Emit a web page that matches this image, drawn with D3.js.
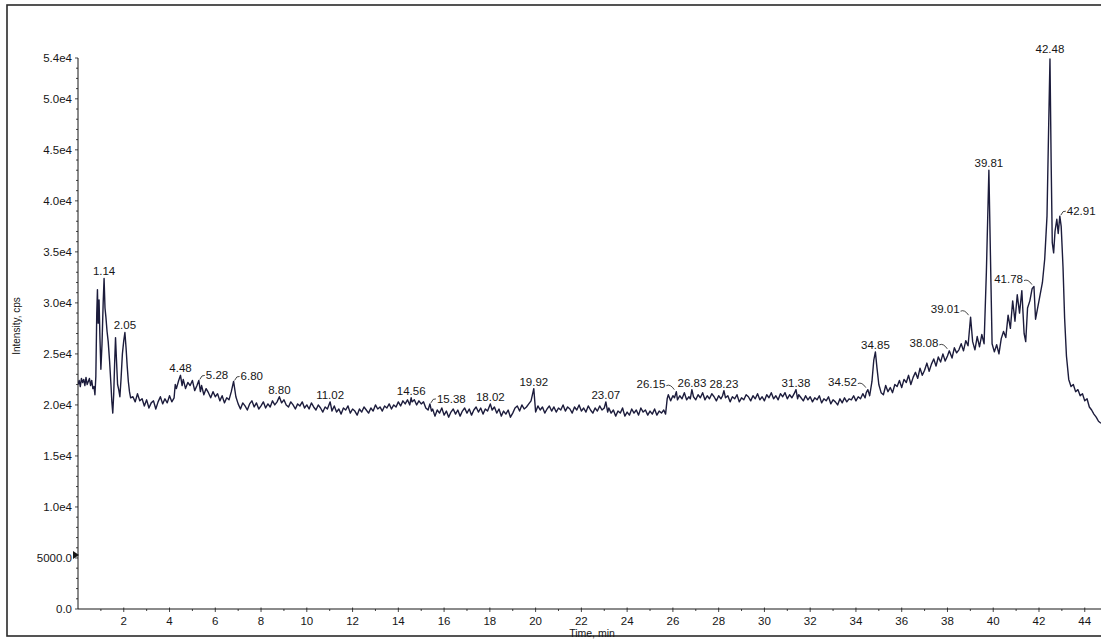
<!DOCTYPE html>
<html>
<head>
<meta charset="utf-8">
<script src="https://cdn.jsdelivr.net/npm/d3@7"></script>
<style>
  html, body { margin: 0; padding: 0; background: #fff; }
  svg { display: block; font-family: "Liberation Sans", Arial, sans-serif; }
</style>
</head>
<body>
<svg id="chart" width="1101" height="639"></svg>
<script>
// ---- Axis ticks ----------------------------------------------------------
const timeTickValues = [2, 4, 6, 8, 10, 12, 14, 16, 18, 20, 22, 24, 26, 28, 30, 32, 34, 36, 38, 40, 42, 44];
const intensityTickValues = [0, 5, 10, 15, 20, 25, 30, 35, 40, 45, 50, 54];          // in 1000 cps
const intensityTickLabels = ["0.0", "5000.0", "1.0e4", "1.5e4", "2.0e4", "2.5e4", "3.0e4",
                             "3.5e4", "4.0e4", "4.5e4", "5.0e4", "5.4e4"];

// ---- Total ion chromatogram: [time (min), intensity (1000 cps)] ----------
const traceFront = [
  [0.00,22.0],[0.05,22.4],[0.10,21.8],[0.15,22.6],[0.20,22.2],[0.25,22.5],[0.30,21.9],[0.35,22.7],
  [0.40,22.0],[0.45,22.3],[0.50,22.6],[0.55,21.9],[0.60,22.4],[0.65,21.6],[0.70,21.8],[0.74,21.0],
  [0.78,22.8],[0.82,29.0],[0.85,31.3],[0.88,28.0],[0.92,30.3],[0.96,26.5],[1.00,23.5],[1.05,26.0],
  [1.10,30.0],[1.14,32.4],[1.18,29.5],[1.22,28.6],[1.27,27.2],[1.32,26.2],[1.38,24.3],[1.44,22.0],
  [1.48,20.3],[1.52,19.2],[1.56,21.0],[1.60,24.0],[1.64,26.6],[1.68,24.5],[1.73,22.0],[1.78,21.5],
  [1.83,20.8],[1.88,22.5],[1.94,25.0],[2.00,26.3],[2.05,27.1],[2.10,25.6],[2.15,23.8],[2.20,22.3],
  [2.25,21.3],[2.30,20.7]
];
const traceEarly = [
  [2.4,20.8],[2.5,20.3],[2.6,21.1],[2.7,20.4],[2.8,20.6],[2.9,19.9],[3.0,20.5],[3.1,19.7],[3.2,20.2],
  [3.3,20.4],[3.4,19.6],[3.5,20.3],[3.6,20.8],[3.7,20.1],[3.8,20.6],[3.9,20.2],[4.0,20.9],[4.1,20.3],
  [4.2,20.7],[4.25,22.0],[4.3,21.6],[4.4,22.4],[4.48,22.9],[4.55,21.9],[4.6,22.5],[4.7,21.6],[4.8,22.2],
  [4.9,21.9],[5.0,22.4],[5.1,21.4],[5.2,21.9],[5.28,22.4],[5.35,21.3],[5.4,21.9],[5.5,21.0],[5.6,21.6],
  [5.7,21.2],[5.8,20.7],[5.9,21.3],[6.0,20.8],[6.1,21.1],[6.2,20.4],[6.3,20.9],[6.4,20.2],[6.5,20.7],
  [6.6,20.5],[6.7,21.3],[6.80,22.3],[6.9,20.8],[7.0,20.1],[7.1,19.6],[7.2,20.2],[7.3,19.9],[7.4,19.5],
  [7.5,20.1],[7.6,20.4],[7.7,19.8],[7.8,20.2],[7.9,19.6],[8.0,19.9],[8.1,20.3],[8.2,19.7],[8.3,20.1],
  [8.4,19.8],[8.5,20.4],[8.6,20.0],[8.7,20.3],[8.80,20.8],[8.9,20.2],[9.0,20.5],[9.1,20.0],[9.2,19.8],
  [9.3,20.3],[9.4,20.0],[9.5,19.6],[9.6,20.1],[9.7,19.9],[9.8,20.3],[9.9,19.7],[10.0,20.0],[10.1,19.6],
  [10.2,20.2],[10.3,19.8],[10.4,19.5],[10.5,20.0],[10.6,19.7],[10.7,19.3],[10.8,19.8],[10.9,19.6],
  [11.02,20.3]
];
const traceMiddle = [
  [11.1,19.4],[11.2,19.9],[11.3,19.3],[11.4,19.6],[11.5,19.1],[11.6,19.7],[11.7,19.5],[11.8,19.9],
  [11.9,19.2],[12.0,19.6],[12.1,19.4],[12.2,19.0],[12.3,19.6],[12.4,19.3],[12.5,19.8],[12.6,19.5],
  [12.7,19.2],[12.8,19.7],[12.9,19.4],[13.0,20.0],[13.1,19.6],[13.2,19.8],[13.3,19.4],[13.4,19.9],
  [13.5,19.7],[13.6,20.1],[13.7,19.6],[13.8,20.0],[13.9,19.8],[14.0,20.3],[14.1,19.9],[14.2,20.4],
  [14.3,20.1],[14.4,20.5],[14.5,20.0],[14.56,20.7],[14.6,20.3],[14.7,20.5],[14.8,20.0],[14.9,20.4],
  [15.0,20.1],[15.1,20.3],[15.2,19.7],[15.3,19.5],[15.38,20.1],[15.45,19.4],[15.5,19.6],[15.6,18.9],
  [15.7,19.5],[15.8,19.2],[15.9,19.7],[16.0,19.0],[16.1,19.4],[16.2,18.8],[16.3,19.3],[16.4,19.6],
  [16.5,19.1],[16.6,19.5],[16.7,18.9],[16.8,19.4],[16.9,19.7],[17.0,19.2],[17.1,19.6],[17.2,19.0],
  [17.3,19.5],[17.4,19.8],[17.5,19.3],[17.6,19.7],[17.7,19.1],[17.8,19.6],[17.9,19.4],[18.02,20.1],
  [18.1,19.5],[18.2,19.8],[18.3,19.2],[18.4,19.6],[18.5,18.9],[18.6,19.4],[18.7,19.1],[18.8,19.5],
  [18.9,18.8],[19.0,19.2],[19.1,19.7],[19.2,19.9],[19.3,19.4],[19.4,20.0],[19.5,19.6],[19.6,19.8],
  [19.7,20.1],[19.8,20.4],[19.92,21.6],[20.0,19.3],[20.1,19.9],[20.2,19.5],[20.3,19.8],[20.4,19.2],
  [20.5,19.6],[20.6,19.9],[20.7,19.4],[20.8,19.8],[20.9,19.3],[21.0,19.7],[21.1,19.5],[21.2,20.0],
  [21.3,19.4],[21.4,19.8],[21.5,19.6],[21.6,19.2],[21.7,19.8],[21.8,19.5],[21.9,20.0],[22.0,19.4],
  [22.1,19.7],[22.2,19.3],[22.3,19.9],[22.4,19.5],[22.5,19.2],[22.6,19.7],[22.7,19.4],[22.8,19.9],
  [22.9,19.5],[23.0,19.7],[23.07,20.3],[23.15,19.3],[23.2,19.7],[23.3,19.2],[23.4,19.5],[23.5,18.9],
  [23.6,19.4],[23.7,19.2],[23.8,19.7],[23.9,18.9],[24.0,19.3],[24.1,19.0],[24.2,19.6],[24.3,19.2],
  [24.4,19.5],[24.5,19.0],[24.6,19.7],[24.7,19.3],[24.8,19.5],[24.9,19.0],[25.0,19.4],[25.1,19.1],
  [25.2,19.6],[25.3,19.0],[25.4,19.4],[25.5,19.2],[25.6,19.5],[25.68,19.1]
];
const tracePlateau = [
  [25.75,20.6],[25.8,21.0],[25.9,20.4],[26.0,20.9],[26.07,20.7],[26.15,21.3],[26.2,20.5],[26.3,20.9],
  [26.4,20.6],[26.5,21.2],[26.6,20.5],[26.7,20.8],[26.76,20.6],[26.83,21.5],[26.9,20.8],[27.0,20.5],
  [27.1,21.0],[27.2,20.7],[27.3,21.2],[27.4,20.5],[27.5,20.9],[27.6,20.6],[27.7,21.1],[27.8,20.8],
  [27.9,20.4],[28.0,20.9],[28.1,20.6],[28.17,20.9],[28.23,21.4],[28.3,20.7],[28.4,20.9],[28.5,20.3],
  [28.6,20.8],[28.7,20.6],[28.8,21.0],[28.9,20.3],[29.0,20.7],[29.1,20.5],[29.2,21.0],[29.3,20.8],
  [29.4,20.4],[29.5,20.9],[29.6,20.6],[29.7,21.1],[29.8,20.5],[29.9,20.8],[30.0,20.4],[30.1,21.0],
  [30.2,20.7],[30.3,21.2],[30.4,20.6],[30.5,20.9],[30.6,20.5],[30.7,21.1],[30.8,20.8],[30.9,21.2],
  [31.0,20.6],[31.1,21.0],[31.2,20.7],[31.3,21.1],[31.38,21.5],[31.45,20.6],[31.5,21.0],[31.6,20.7],
  [31.7,20.4],[31.8,20.9],[31.9,20.5],[32.0,20.8],[32.1,20.3],[32.2,20.7],[32.3,20.5],[32.4,20.9],
  [32.5,20.2],[32.6,20.6],[32.7,20.4],[32.8,20.8],[32.9,20.1],[33.0,20.5],[33.1,20.3],[33.2,20.0],
  [33.3,20.6],[33.4,20.2],[33.5,20.7],[33.6,20.3],[33.7,20.6],[33.8,20.5],[33.9,20.9],[34.0,20.4],
  [34.1,20.8],[34.2,20.6],[34.3,21.1],[34.4,20.7],[34.45,21.2]
];
const traceLate = [
  [34.52,21.5],[34.6,20.9],[34.7,22.3],[34.78,24.4],[34.85,25.2],[34.92,23.6],[35.0,22.0],[35.1,21.2],
  [35.2,21.0],[35.3,21.9],[35.4,21.3],[35.5,21.7],[35.6,21.2],[35.7,22.0],[35.8,21.8],[35.9,22.4],
  [36.0,21.7],[36.1,22.5],[36.2,22.2],[36.3,22.9],[36.4,22.0],[36.5,22.7],[36.6,23.2],[36.7,22.6],
  [36.8,23.6],[36.9,22.9],[37.0,23.4],[37.1,24.1],[37.2,23.3],[37.3,24.0],[37.4,24.5],[37.5,23.8],
  [37.6,24.7],[37.7,24.2],[37.8,25.0],[37.9,24.3],[38.0,24.8],[38.08,25.3],[38.2,24.6],[38.3,25.6],
  [38.4,25.1],[38.5,25.4],[38.6,26.0],[38.7,25.3],[38.8,26.3],[38.9,25.8],[39.01,28.6],[39.1,26.2],
  [39.2,25.4],[39.3,26.7],[39.4,25.7],[39.5,26.9],[39.6,26.0],[39.7,33.0],[39.81,43.0],[39.9,32.0],
  [39.95,26.0],[40.05,25.2],[40.15,25.9],[40.25,25.0],[40.35,26.5],[40.45,27.2],[40.55,26.6],
  [40.65,28.8],[40.75,27.5],[40.85,30.2],[40.95,28.2],[41.05,30.8],[41.15,29.0],[41.25,31.2],
  [41.35,27.0],[41.42,26.2],[41.5,29.5],[41.6,30.2],[41.7,31.4],[41.78,31.6],[41.85,28.4],[41.95,29.6],
  [42.05,30.8],[42.15,32.0],[42.25,34.3],[42.35,38.5],[42.42,47.0],[42.48,53.9],[42.53,44.0],
  [42.58,35.9],[42.64,34.9],[42.70,37.0],[42.78,38.2],[42.84,36.8],[42.91,38.5],[42.97,37.5],
  [43.05,33.5],[43.12,28.5],[43.2,24.8],[43.3,22.5],[43.4,21.8],[43.5,22.0],[43.6,21.3],[43.7,21.5],
  [43.8,20.9],[43.9,21.1],[44.0,20.4],[44.1,20.6],[44.2,19.8],[44.3,19.5],[44.4,19.1],[44.5,18.8],
  [44.6,18.4],[44.71,18.2]
];

// Retention times annotated on the chromatogram
const peakTimes = [1.14, 2.05, 4.48, 5.28, 6.80, 8.80, 11.02, 14.56, 15.38, 18.02, 19.92, 23.07,
                   26.15, 26.83, 28.23, 31.38, 34.52, 34.85, 38.08, 39.01, 39.81, 41.78, 42.48, 42.91];

// ---- Layout ----------------------------------------------------------------
const W = 1101, H = 639;
const plot = { left: 78, right: 1101, top: 58, bottom: 609 };
// labels pushed aside with a short leader line
const leaderLeft = new Set([26.15, 34.52, 38.08, 39.01, 41.78]);
const leaderRight = new Set([5.28, 6.80, 15.38, 42.91]);

const svg = d3.select("#chart");
const ink = "#161616";
const traceColor = "#1c1c3c";

const trace = [].concat(traceFront, traceEarly, traceMiddle, tracePlateau, traceLate)
  .sort((a, b) => a[0] - b[0]);

const x = d3.scaleLinear().domain([0, 44.71]).range([plot.left, plot.right]);
const y = d3.scaleLinear().domain([0, 54]).range([plot.bottom, plot.top]);

// outer frame
svg.append("rect")
  .attr("x", 7).attr("y", 5).attr("width", W + 10).attr("height", 631)
  .attr("fill", "none").attr("stroke", "#2a2a2a").attr("stroke-width", 1.6);

// ---- X axis ----
const xAxisG = svg.append("g").attr("transform", `translate(0,${plot.bottom})`);
xAxisG.append("line").attr("x1", plot.left).attr("x2", plot.right)
  .attr("stroke", ink).attr("stroke-width", 1);
const minuteTicks = d3.range(1, 45);
xAxisG.selectAll("line.tick").data(minuteTicks).join("line")
  .attr("class", "tick")
  .attr("x1", d => x(d)).attr("x2", d => x(d))
  .attr("y1", d => d % 2 === 0 ? -1.5 : 0).attr("y2", d => d % 2 === 0 ? 3 : 2)
  .attr("stroke", ink).attr("stroke-width", 0.8);
xAxisG.selectAll("text").data(timeTickValues).join("text")
  .attr("x", d => x(d)).attr("y", 16)
  .attr("text-anchor", "middle").attr("font-size", 11.5).attr("fill", ink)
  .text(d => d);

svg.append("text")
  .attr("x", 592).attr("y", 637)
  .attr("text-anchor", "middle").attr("font-size", 10.5).attr("fill", ink)
  .text("Time, min");

// ---- Y axis ----
const yAxisG = svg.append("g").attr("transform", `translate(${plot.left},0)`);
yAxisG.append("line").attr("y1", plot.bottom).attr("y2", plot.top)
  .attr("stroke", ink).attr("stroke-width", 1);
const minorY = d3.range(0, 55, 1);
yAxisG.selectAll("line.tick").data(minorY).join("line")
  .attr("class", "tick")
  .attr("y1", d => y(d)).attr("y2", d => y(d))
  .attr("x1", d => intensityTickValues.includes(d) ? -3 : -2).attr("x2", 0)
  .attr("stroke", ink).attr("stroke-width", 0.8);
yAxisG.selectAll("text").data(intensityTickValues).join("text")
  .attr("x", -6).attr("y", d => y(d)).attr("dy", "0.35em")
  .attr("text-anchor", "end").attr("font-size", 11.5).attr("fill", ink)
  .text((d, i) => intensityTickLabels[i]);

// threshold marker on the intensity axis
yAxisG.append("path")
  .attr("d", `M-5,${y(5) - 7} L1,${y(5) - 3} L-5,${y(5) + 1} Z`)
  .attr("fill", ink);

svg.append("text")
  .attr("transform", `translate(20,326) rotate(-90)`)
  .attr("text-anchor", "middle").attr("font-size", 10).attr("fill", ink)
  .text("Intensity, cps");

// ---- Trace ----
svg.append("clipPath").attr("id", "plot-clip")
  .append("rect").attr("x", plot.left).attr("y", 0)
  .attr("width", plot.right - plot.left).attr("height", plot.bottom);

svg.append("path")
  .datum(trace)
  .attr("clip-path", "url(#plot-clip)")
  .attr("fill", "none")
  .attr("stroke", traceColor)
  .attr("stroke-width", 1.4)
  .attr("stroke-linejoin", "round")
  .attr("d", d3.line().x(d => x(d[0])).y(d => y(d[1])));

// ---- Peak annotations ----
const fmt = d3.format(".2f");
const bisect = d3.bisector(d => d[0]).center;
const labels = svg.append("g").attr("font-size", 11.5).attr("fill", ink);

peakTimes.forEach(t => {
  const apex = trace[bisect(trace, t)];
  const ax = x(apex[0]), ay = y(apex[1]);
  if (leaderLeft.has(t)) {
    labels.append("text").attr("x", ax - 11).attr("y", ay - 4)
      .attr("text-anchor", "end").text(fmt(t));
    labels.append("path")
      .attr("d", `M${ax - 10},${ay - 6} Q${ax - 6},${ay - 8} ${ax - 2},${ay - 2}`)
      .attr("fill", "none").attr("stroke", ink).attr("stroke-width", 0.8);
  } else if (leaderRight.has(t)) {
    labels.append("text").attr("x", ax + 7).attr("y", ay - 1)
      .attr("text-anchor", "start").text(fmt(t));
    labels.append("path")
      .attr("d", `M${ax + 1},${ay - 1} Q${ax + 3},${ay - 6} ${ax + 6},${ay - 5}`)
      .attr("fill", "none").attr("stroke", ink).attr("stroke-width", 0.8);
  } else {
    labels.append("text").attr("x", ax).attr("y", ay - (t === 42.48 ? 6 : 3))
      .attr("text-anchor", "middle").text(fmt(t));
  }
});
</script>
</body>
</html>
